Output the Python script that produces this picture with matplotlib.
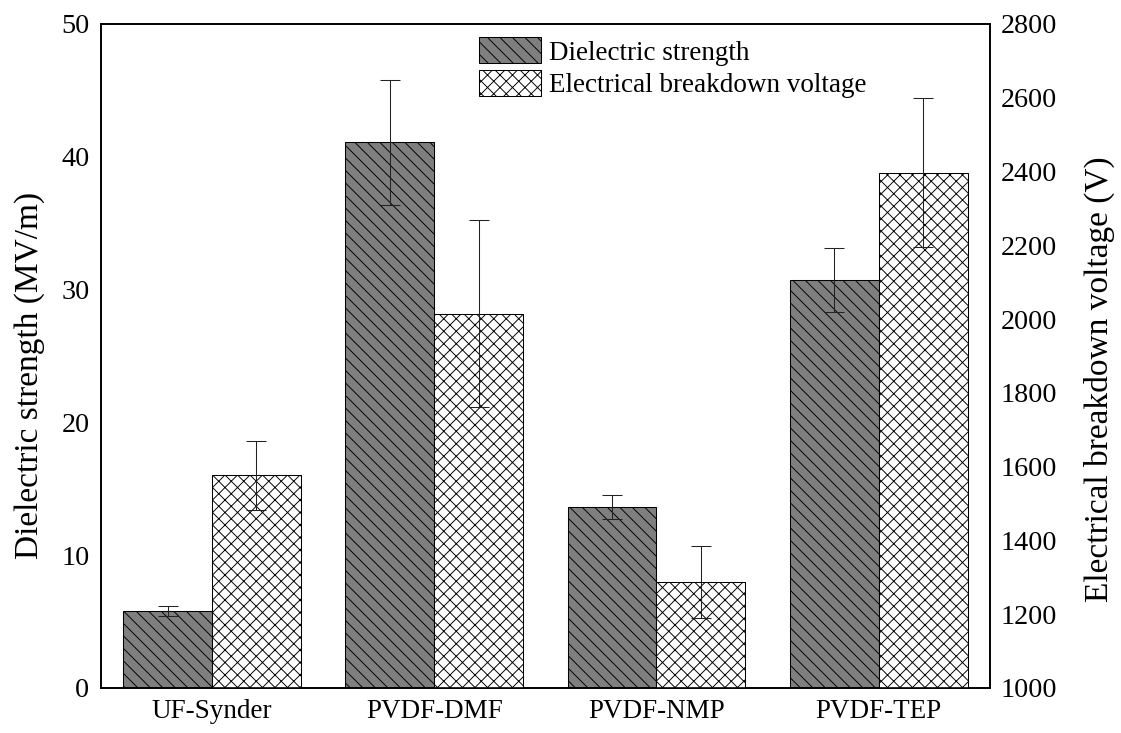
import numpy as np
import matplotlib.pyplot as plt
from matplotlib.patches import Patch

plt.rcParams['font.family'] = ['Liberation Serif', 'DejaVu Serif']
plt.rcParams['hatch.linewidth'] = 0.9

membranes = ['UF-Synder', 'PVDF-DMF', 'PVDF-NMP', 'PVDF-TEP']
strength = [5.8, 41.1, 13.6, 30.7]          # MV/m
strength_err = [0.35, 4.7, 0.9, 2.4]
voltage = [1576, 2015, 1287, 2397]           # V
voltage_err = [93, 254, 97, 202]

dpi = 75
fig = plt.figure(figsize=(1121 / dpi, 733 / dpi), dpi=dpi)
ax = fig.add_axes([0.090, 0.0614, 0.793, 0.906])
ax2 = ax.twinx()

x = np.arange(len(membranes))
w = 0.4
ax.bar(x - w / 2, strength, w, yerr=strength_err, color='#7f7f7f', edgecolor='black',
       linewidth=1, hatch='\\\\', capsize=10, error_kw=dict(elinewidth=1, capthick=1, ecolor='#222222'))
ax2.bar(x + w / 2, voltage, w, yerr=voltage_err, color='white', edgecolor='black',
        linewidth=1, hatch='xx', capsize=10, error_kw=dict(elinewidth=1, capthick=1, ecolor='#222222'))

ax.set_xlim(-0.5, 3.5)
ax.set_ylim(0, 50)
ax2.set_ylim(1000, 2800)
ax.set_yticks(np.arange(0, 51, 10))
ax2.set_yticks(np.arange(1000, 2801, 200))
ax.set_xticks(x)
ax.set_xticklabels(membranes)
ax.tick_params(axis='y', length=0, labelsize=27, pad=11)
ax.tick_params(axis='x', length=0, labelsize=26, pad=11)
ax2.tick_params(axis='y', length=0, labelsize=27, pad=10)
for a in (ax, ax2):
    for s in a.spines.values():
        s.set_linewidth(1.6)

ax.set_ylabel('Dielectric strength (MV/m)', fontsize=32)
ax2.set_ylabel('Electrical breakdown voltage (V)', fontsize=32)
ax.yaxis.set_label_coords(-0.063, 0.47)
ax2.yaxis.set_label_coords(1.106, 0.465)

handles = [Patch(facecolor='#7f7f7f', edgecolor='black', hatch='\\\\', label='Dielectric strength'),
           Patch(facecolor='white', edgecolor='black', hatch='xx', label='Electrical breakdown voltage')]
ax2.legend(handles=handles, loc='upper left', bbox_to_anchor=(0.41, 1.0), frameon=False,
           fontsize=26, handlelength=2.3, handleheight=1.1, handletextpad=0.3,
           labelspacing=0.15, borderaxespad=0.1)

fig.savefig('out.png', dpi=dpi)
